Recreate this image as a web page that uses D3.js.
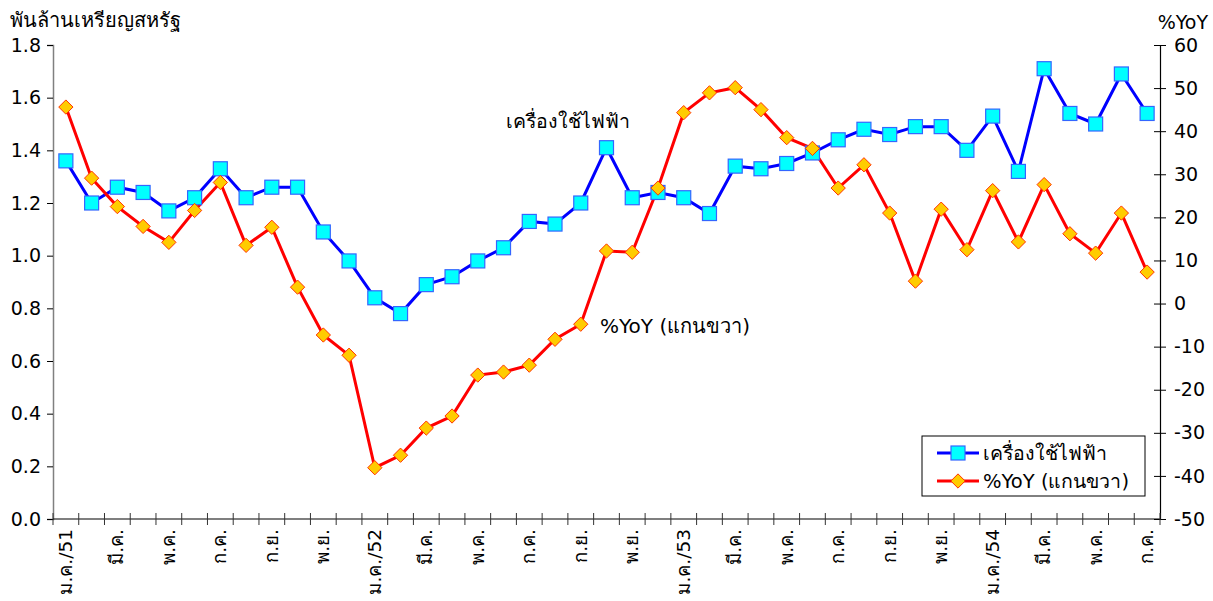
<!DOCTYPE html>
<html>
<head>
<meta charset="utf-8">
<script src="https://cdn.jsdelivr.net/npm/d3@7"></script>
<style>
  body { margin: 0; background: #fff; }
  text { font-family: Tahoma, "DejaVu Sans", "Noto Sans", sans-serif; fill: #000; }
</style>
</head>
<body>
<div id="wrapper"></div>
<script>
const months = ["ม.ค./51","ก.พ.","มี.ค.","เม.ย.","พ.ค.","มิ.ย.","ก.ค.","ส.ค.","ก.ย.","ต.ค.","พ.ย.","ธ.ค.",
    "ม.ค./52","ก.พ.","มี.ค.","เม.ย.","พ.ค.","มิ.ย.","ก.ค.","ส.ค.","ก.ย.","ต.ค.","พ.ย.","ธ.ค.",
    "ม.ค./53","ก.พ.","มี.ค.","เม.ย.","พ.ค.","มิ.ย.","ก.ค.","ส.ค.","ก.ย.","ต.ค.","พ.ย.","ธ.ค.",
    "ม.ค./54","ก.พ.","มี.ค.","เม.ย.","พ.ค.","มิ.ย.","ก.ค."];
const appliances = [1.36,1.20,1.26,1.24,1.17,1.22,1.33,1.22,1.26,1.26,1.09,0.98,
    0.84,0.78,0.89,0.92,0.98,1.03,1.13,1.12,1.20,1.41,1.22,1.24,
    1.22,1.16,1.34,1.33,1.35,1.39,1.44,1.48,1.46,1.49,1.49,1.40,
    1.53,1.32,1.71,1.54,1.50,1.69,1.54];
const yoy = [45.6,29.1,22.5,17.9,14.2,21.6,28.1,13.5,17.7,3.8,-7.3,-12.0,
    -38.1,-35.2,-28.9,-26.1,-16.6,-15.9,-14.3,-8.3,-4.8,12.2,11.9,26.8,
    44.3,48.9,50.1,45.0,38.5,36.0,26.8,32.2,21.0,5.2,21.9,12.5,
    26.2,14.3,27.6,16.2,11.7,21.0,7.3];
const leftTicks = [0,0.2,0.4,0.6,0.8,1.0,1.2,1.4,1.6,1.8];
const rightTicks = [-50,-40,-30,-20,-10,0,10,20,30,40,50,60];
const seriesNames = ["เครื่องใช้ไฟฟ้า", "%YoY (แกนขวา)"];

const dimensions = {
    width: 1213,
    height: 601,
    margin: { top: 45, right: 53, bottom: 82, left: 53 }
};
dimensions.boundedWidth = dimensions.width - dimensions.margin.left - dimensions.margin.right;
dimensions.boundedHeight = dimensions.height - dimensions.margin.top - dimensions.margin.bottom;

const svg = d3.select("#wrapper").append("svg")
    .attr("width", dimensions.width)
    .attr("height", dimensions.height);
const bounds = svg.append("g")
    .attr("transform", `translate(${dimensions.margin.left},${dimensions.margin.top})`);

const idx = d3.range(months.length);
const xScale = d3.scaleBand().domain(idx).range([0, dimensions.boundedWidth]).padding(0);
const xc = i => xScale(i) + xScale.bandwidth() / 2;
const yLeft = d3.scaleLinear().domain([0, 1.8]).range([dimensions.boundedHeight, 0]);
const yRight = d3.scaleLinear().domain([-50, 60]).range([dimensions.boundedHeight, 0]);

// left axis
const yAxisLeft = bounds.append("g")
    .call(d3.axisLeft(yLeft).tickValues(leftTicks).tickFormat(d3.format(".1f")).tickSize(6).tickPadding(6));
yAxisLeft.select(".domain").attr("stroke", "#808080").attr("stroke-width", 1.5);
yAxisLeft.selectAll(".tick line").attr("stroke", "#000");
yAxisLeft.selectAll(".tick text").style("font-size", "19px");

// right axis
const yAxisRight = bounds.append("g")
    .attr("transform", `translate(${dimensions.boundedWidth},0)`)
    .call(d3.axisRight(yRight).tickValues(rightTicks).tickSize(6).tickPadding(8)
        .tickFormat(d => String(d)));
yAxisRight.select(".domain").attr("stroke", "#000").attr("stroke-width", 1.2);
yAxisRight.selectAll(".tick line").attr("x1", -6).attr("stroke", "#000");
yAxisRight.selectAll(".tick text").style("font-size", "19px");

// x axis
const xAxis = bounds.append("g").attr("transform", `translate(0,${dimensions.boundedHeight})`);
xAxis.append("line")
    .attr("x1", 0).attr("x2", dimensions.boundedWidth)
    .attr("stroke", "#000").attr("stroke-width", 1.2);
xAxis.selectAll(".xtick")
    .data(idx.concat([months.length]))
    .enter().append("line")
    .attr("x1", d => d < months.length ? xScale(d) : dimensions.boundedWidth)
    .attr("x2", d => d < months.length ? xScale(d) : dimensions.boundedWidth)
    .attr("y1", -6).attr("y2", 6)
    .attr("stroke", "#333");
xAxis.selectAll(".xlabel")
    .data(idx.filter(i => i % 2 === 0))
    .enter().append("text")
    .attr("transform", d => `translate(${xc(d) + 6},10) rotate(-90)`)
    .attr("text-anchor", "end")
    .style("font-size", "18.5px")
    .text(d => months[d]);

// axis titles
svg.append("text").attr("x", 10).attr("y", 27).style("font-size", "20px").text("พันล้านเหรียญสหรัฐ");
svg.append("text").attr("x", 1208).attr("y", 29).attr("text-anchor", "end").style("font-size", "19px").text("%YoY");

// lines
const blueLine = d3.line().x((d, i) => xc(i)).y(d => yLeft(d));
const redLine = d3.line().x((d, i) => xc(i)).y(d => yRight(d));

bounds.append("path").datum(appliances)
    .attr("d", blueLine).attr("fill", "none")
    .attr("stroke", "#0000ff").attr("stroke-width", 3);
bounds.append("path").datum(yoy)
    .attr("d", redLine).attr("fill", "none")
    .attr("stroke", "#ff0000").attr("stroke-width", 3);

const sq = 14;
bounds.selectAll(".sq").data(appliances).enter().append("rect")
    .attr("x", (d, i) => xc(i) - sq / 2)
    .attr("y", d => yLeft(d) - sq / 2)
    .attr("width", sq).attr("height", sq)
    .attr("fill", "#00ffff").attr("stroke", "#3366ff").attr("stroke-width", 1.2);

const diamond = d3.symbol().type(d3.symbolDiamond2).size(130);
bounds.selectAll(".dm").data(yoy).enter().append("path")
    .attr("transform", (d, i) => `translate(${xc(i)},${yRight(d)})`)
    .attr("d", diamond)
    .attr("fill", "#ffcc00").attr("stroke", "#ff3300").attr("stroke-width", 1);

// annotations
svg.append("text").attr("x", 506).attr("y", 128).style("font-size", "19.5px").text(seriesNames[0]);
svg.append("text").attr("x", 600).attr("y", 333).style("font-size", "20px").text(seriesNames[1]);

// legend
const legend = svg.append("g").attr("transform", "translate(922,436)");
legend.append("rect").attr("width", 223).attr("height", 60)
    .attr("fill", "#fff").attr("stroke", "#000").attr("stroke-width", 1);
legend.append("line").attr("x1", 15).attr("x2", 57).attr("y1", 17).attr("y2", 17)
    .attr("stroke", "#0000ff").attr("stroke-width", 3);
legend.append("rect").attr("x", 36 - sq / 2).attr("y", 17 - sq / 2).attr("width", sq).attr("height", sq)
    .attr("fill", "#00ffff").attr("stroke", "#3366ff").attr("stroke-width", 1.2);
legend.append("line").attr("x1", 15).attr("x2", 57).attr("y1", 45).attr("y2", 45)
    .attr("stroke", "#ff0000").attr("stroke-width", 3);
legend.append("path").attr("transform", "translate(36,45)").attr("d", diamond)
    .attr("fill", "#ffcc00").attr("stroke", "#ff3300").attr("stroke-width", 1);
legend.append("text").attr("x", 61).attr("y", 24).style("font-size", "19.5px").text(seriesNames[0]);
legend.append("text").attr("x", 61).attr("y", 52).style("font-size", "19.5px").text(seriesNames[1]);
</script>
</body>
</html>
